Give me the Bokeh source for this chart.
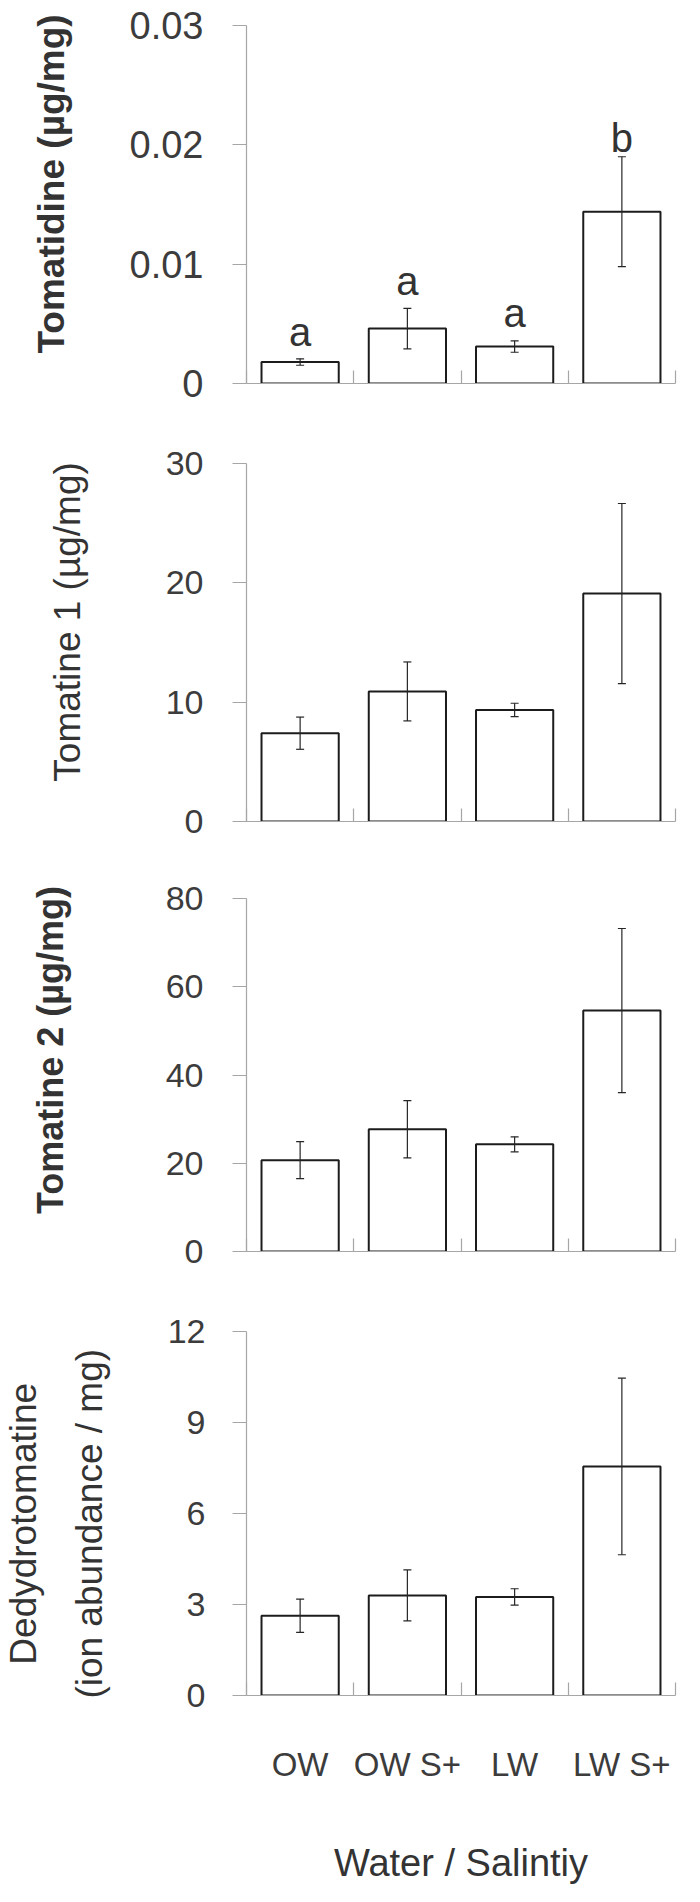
from bokeh.plotting import figure
from bokeh.layouts import column
from bokeh.models import ColumnDataSource, FixedTicker, Range1d, Whisker, TeeHead
from bokeh.embed import file_html
from bokeh.resources import INLINE
from bokeh.core.properties import value

# ---------------- data ----------------
categories = ["OW", "OW S+", "LW", "LW S+"]

tomatidine_mean = [0.0018, 0.0046, 0.0031, 0.0144]
tomatidine_se = [0.00027, 0.0017, 0.00048, 0.0046]
tomatidine_letters = ["a", "a", "a", "b"]
tomatidine_letter_y = [0.0043, 0.0086, 0.0059, 0.0206]

tomatine1_mean = [7.4, 10.9, 9.35, 19.1]
tomatine1_se = [1.35, 2.47, 0.56, 7.55]

tomatine2_mean = [20.7, 27.7, 24.3, 54.6]
tomatine2_se = [4.2, 6.5, 1.7, 18.6]

dehydro_mean = [2.63, 3.3, 3.25, 7.55]
dehydro_se = [0.55, 0.84, 0.27, 2.91]

yticks_1 = [0, 0.01, 0.02, 0.03]
ytick_labels_1 = ["0", "0.01", "0.02", "0.03"]
yticks_2 = [0, 10, 20, 30]
ytick_labels_2 = ["0", "10", "20", "30"]
yticks_3 = [0, 20, 40, 60, 80]
ytick_labels_3 = ["0", "20", "40", "60", "80"]
yticks_4 = [0, 3, 6, 9, 12]
ytick_labels_4 = ["0", "3", "6", "9", "12"]

ylabel_1 = "Tomatidine (µg/mg)"
ylabel_2 = "Tomatine 1 (µg/mg)"
ylabel_3 = "Tomatine 2 (µg/mg)"
ylabel_4_line1 = "Dedydrotomatine"
ylabel_4_line2 = "(ion abundance / mg)"
xlabel = "Water / Salintiy"

# ---------------- styling ----------------
FONT = "Liberation Sans"
AXIS = "#a6a6a6"
TXT = "#3c3c3c"
TITLE = "#333333"
BAR_LINE = "#1c1c1c"
ERR = "#262626"
W = 692
PAD = "\u00a0"


def make_panel(mean, se, yticks, ytick_labels, ylabel, height, left, right, top, bottom,
               tick_font, tick_standoff, label_size, label_style, label_standoff,
               label_line_height=1.2, show_x=False):
    n = len(categories)
    xs = [i + 0.5 for i in range(n)]
    upper = [m + s for m, s in zip(mean, se)]
    lower = [m - s for m, s in zip(mean, se)]
    src = ColumnDataSource(dict(x=xs, top=mean, upper=upper, lower=lower))

    p = figure(width=W, height=height, title=None,
               min_border_left=left, min_border_right=right,
               min_border_top=top, min_border_bottom=bottom,
               x_range=Range1d(0, n), y_range=Range1d(yticks[0], yticks[-1]),
               output_backend="svg", toolbar_location=None)
    p.outline_line_color = None
    p.xgrid.visible = False
    p.ygrid.visible = False
    p.background_fill_color = "white"
    p.border_fill_color = "white"

    p.vbar(x="x", top="top", bottom=0, width=0.72, source=src,
           fill_color="white", line_color=BAR_LINE, line_width=2)

    wh = Whisker(source=src, base="x", upper="upper", lower="lower",
                 line_color=ERR, line_width=1.2, level="annotation",
                 upper_head=TeeHead(size=8, line_color=ERR, line_width=1.2),
                 lower_head=TeeHead(size=8, line_color=ERR, line_width=1.2))
    p.add_layout(wh)

    yax = p.yaxis[0]
    yax.ticker = FixedTicker(ticks=yticks, minor_ticks=[])
    yax.major_label_overrides = {t: l for t, l in zip(yticks, ytick_labels)}
    yax.axis_line_color = AXIS
    yax.axis_line_width = 1.2
    yax.major_tick_line_color = AXIS
    yax.major_tick_line_width = 1.2
    yax.major_tick_out = 14
    yax.major_tick_in = 0
    yax.minor_tick_out = 0
    yax.minor_tick_in = 0
    yax.major_label_standoff = tick_standoff
    yax.major_label_text_font = FONT
    yax.major_label_text_font_size = tick_font
    yax.major_label_text_color = TXT
    yax.axis_label = ylabel
    yax.axis_label_text_font = FONT
    yax.axis_label_text_font_size = label_size
    yax.axis_label_text_font_style = label_style
    yax.axis_label_text_color = TITLE
    yax.axis_label_standoff = label_standoff
    yax.axis_label_text_line_height = label_line_height

    xax = p.xaxis[0]
    xax.ticker = FixedTicker(ticks=xs, minor_ticks=list(range(n + 1)))
    xax.axis_line_color = AXIS
    xax.axis_line_width = 1.2
    xax.major_tick_in = 0
    xax.major_tick_out = 0
    xax.minor_tick_in = 13
    xax.minor_tick_out = 0
    xax.minor_tick_line_color = AXIS
    xax.minor_tick_line_width = 1.2
    if show_x:
        xax.major_label_overrides = {x: c for x, c in zip(xs, categories)}
        xax.major_label_text_font = FONT
        xax.major_label_text_font_size = "33px"
        xax.major_label_text_color = TXT
        xax.major_label_standoff = 50
        xax.axis_label = xlabel
        xax.axis_label_text_font = FONT
        xax.axis_label_text_font_size = "38px"
        xax.axis_label_text_font_style = "normal"
        xax.axis_label_text_color = TITLE
        xax.axis_label_standoff = 56
    else:
        xax.major_label_overrides = {x: "" for x in xs}
    return p, xs


# Panel 1: Tomatidine
p1, xs1 = make_panel(tomatidine_mean, tomatidine_se, yticks_1, ytick_labels_1,
                     PAD * 4 + ylabel_1,
                     height=422, left=230, right=17, top=25, bottom=39,
                     tick_font="38px", tick_standoff=29,
                     label_size="37px", label_style="bold", label_standoff=55)
p1.text(x=xs1, y=tomatidine_letter_y, text=tomatidine_letters,
        text_align="center", text_baseline="alphabetic",
        text_font=value(FONT), text_font_size="40px", text_color="#333333")

# Panel 2: Tomatine 1
p2, _ = make_panel(tomatine1_mean, tomatine1_se, yticks_2, ytick_labels_2,
                   PAD * 4 + ylabel_2,
                   height=438, left=230, right=8, top=41, bottom=39,
                   tick_font="34px", tick_standoff=29,
                   label_size="37px", label_style="normal", label_standoff=75)

# Panel 3: Tomatine 2
p3, _ = make_panel(tomatine2_mean, tomatine2_se, yticks_3, ytick_labels_3,
                   PAD * 5 + ylabel_3,
                   height=431, left=233, right=6, top=38, bottom=40,
                   tick_font="34px", tick_standoff=29,
                   label_size="36px", label_style="bold", label_standoff=92)

# Panel 4: Dedydrotomatine
p4, _ = make_panel(dehydro_mean, dehydro_se, yticks_4, ytick_labels_4,
                   ylabel_4_line1 + PAD * 2 + "\n" + ylabel_4_line2 + PAD * 2,
                   height=595, left=237, right=1, top=40, bottom=190,
                   tick_font="34px", tick_standoff=27,
                   label_size="37px", label_style="normal", label_standoff=55,
                   label_line_height=1.6, show_x=True)

layout = column(p1, p2, p3, p4, spacing=0)

open("out.html", "w").write(file_html(layout, INLINE))
